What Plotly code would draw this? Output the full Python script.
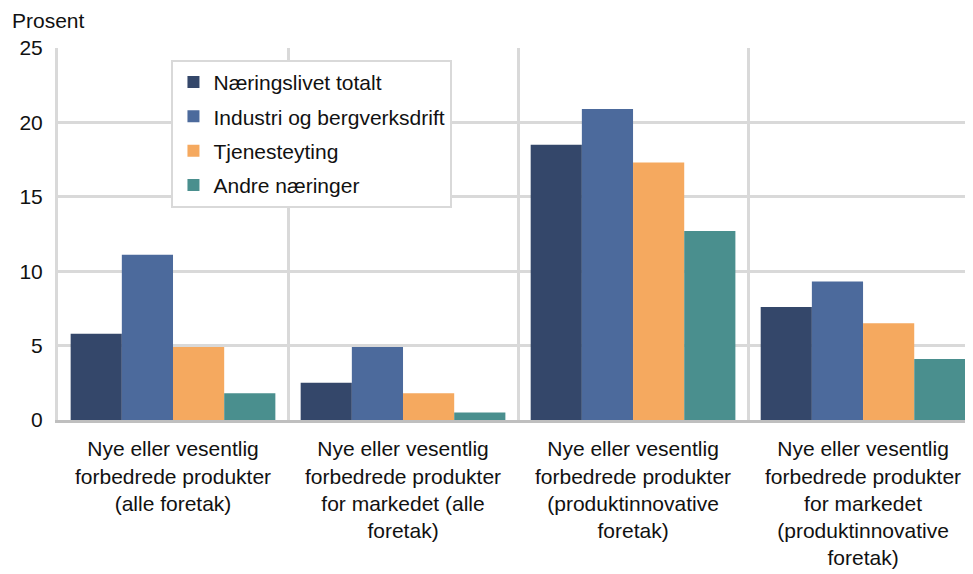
import plotly.graph_objects as go

categories = [
    "Nye eller vesentlig<br>forbedrede produkter<br>(alle foretak)",
    "Nye eller vesentlig<br>forbedrede produkter<br>for markedet (alle<br>foretak)",
    "Nye eller vesentlig<br>forbedrede produkter<br>(produktinnovative<br>foretak)",
    "Nye eller vesentlig<br>forbedrede produkter<br>for markedet<br>(produktinnovative<br>foretak)",
]
series_names = ["Næringslivet totalt", "Industri og bergverksdrift", "Tjenesteyting", "Andre næringer"]
naeringslivet = [5.8, 2.5, 18.5, 7.6]
industri = [11.1, 4.9, 20.9, 9.3]
tjenesteyting = [4.9, 1.8, 17.3, 6.5]
andre = [1.8, 0.5, 12.7, 4.1]
y_ticks = [0, 5, 10, 15, 20, 25]

colors = ["#34476A", "#4C6A9C", "#F5A95F", "#4A8F8E"]
values = [naeringslivet, industri, tjenesteyting, andre]

fig = go.Figure()
for name, vals, col in zip(series_names, values, colors):
    fig.add_trace(go.Bar(x=categories, y=vals, name=name, marker=dict(color=col, line=dict(width=0)),
                         legendgroup=name))

FONT = "Liberation Sans, Arial, sans-serif"
# page body has an 8px margin; offsets compensate so plot area sits at x=58..973, y=48..420
fig.update_layout(
    width=965, height=566,
    margin=dict(l=50, r=0, t=40, b=154),
    paper_bgcolor="white", plot_bgcolor="white",
    barmode="group", bargap=0.11, bargroupgap=0,
    font=dict(family=FONT, size=21, color="#111111"),
    legend=dict(x=0.124, y=0.968, xanchor="left", yanchor="top",
                bordercolor="#d9d9d9", borderwidth=2, bgcolor="white",
                font=dict(size=21, color="#111111"), tracegroupgap=4),
    xaxis=dict(range=[-0.5, 3.478], tickson="boundaries", showgrid=True, gridcolor="#d9d9d9", gridwidth=3,
               showline=True, linecolor="#bfbfbf", linewidth=3, ticks="", tickangle=0,
               ticklabelstandoff=8, tickfont=dict(size=21)),
    yaxis=dict(range=[0, 25], tickvals=y_ticks, showgrid=True, gridcolor="#d9d9d9", gridwidth=3,
               showline=True, linecolor="#d9d9d9", linewidth=3, ticks="", ticklabelstandoff=8,
               tickfont=dict(size=21), zeroline=False),
    annotations=[dict(text="Prosent", xref="paper", yref="paper", x=0, xshift=-48, y=1.075,
                      xanchor="left", yanchor="middle", showarrow=False, font=dict(size=21))],
)
fig.write_html("out.html")
